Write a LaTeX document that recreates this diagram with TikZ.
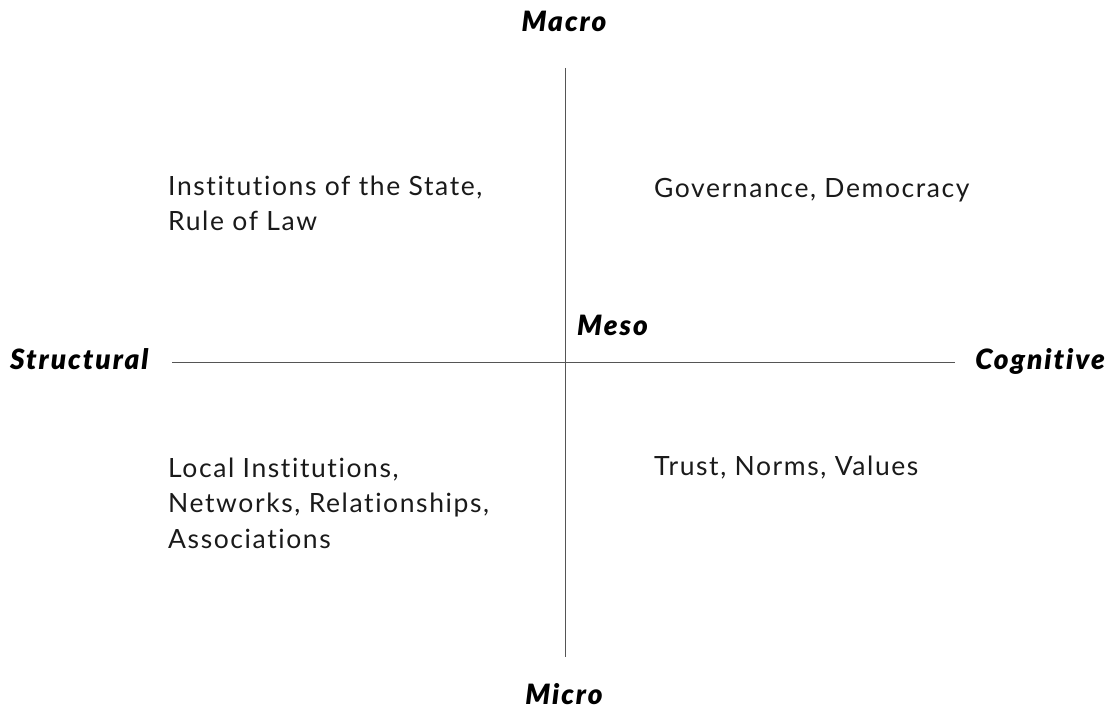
\documentclass[tikz,border=0pt]{standalone}
\usepackage{fontspec}
\setmainfont{Lato}
\newfontfamily\bodyfont{Lato}[LetterSpace=6,Ligatures=NoCommon]
\newfontfamily\headfont{Lato Heavy}[LetterSpace=7,Ligatures=NoCommon]
\definecolor{axisgray}{HTML}{555555}
\definecolor{inkdark}{HTML}{1A1A1A}
\begin{document}
\begin{tikzpicture}[x=1pt,y=-1pt,
  axis/.style={draw=axisgray,line width=1pt},
  head/.style={inner sep=0pt,text=black,font=\headfont\itshape\fontsize{28}{32}\selectfont},
  quad/.style={inner sep=0pt,align=left,text=inkdark,font=\bodyfont\fontsize{26.5}{35.5}\selectfont}]
\useasboundingbox (0,0) rectangle (1110,708);
% axis end points
\coordinate (top) at (565,68);
\coordinate (bottom) at (565,657);
\coordinate (left) at (172,362);
\coordinate (right) at (955,362);
\draw[axis] (top) -- (bottom);
\draw[axis] (left) -- (right);
% axis labels
\node[head,anchor=base] (macro) at (564,32) {Macro};
\node[head,anchor=base] (micro) at (564,704) {Micro};
\node[head,anchor=base west] (structural) at (10,369) {Structural};
\node[head,anchor=base east] (cognitive) at (1105,369) {Cognitive};
\node[head,anchor=base west] (meso) at (577,335) {Meso};
% quadrant contents (base anchor sits on the last line)
\node[quad,anchor=base west] (state) at (168,231) {Institutions of the State,\\Rule of Law};
\node[quad,anchor=base west] (gov) at (654,198) {Governance, Democracy};
\node[quad,anchor=base west] (local) at (168,548) {Local Institutions,\\Networks, Relationships,\\Associations};
\node[quad,anchor=base west] (trust) at (654,475) {Trust, Norms, Values};
\end{tikzpicture}
\end{document}
